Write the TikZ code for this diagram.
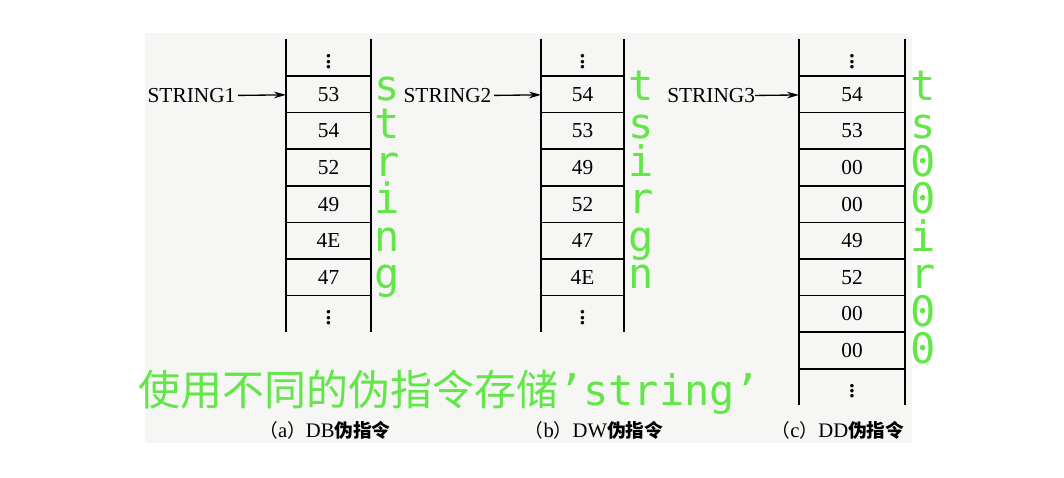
\documentclass[tikz,border=0pt]{standalone}
\usepackage{fontspec}
\setmainfont{Liberation Serif}
\newfontfamily\cjk{Noto Sans CJK SC}
\newfontfamily\mono{DejaVu Sans Mono}
\usetikzlibrary{positioning,arrows.meta}
\definecolor{paper}{RGB}{246,246,245}
\definecolor{hl}{RGB}{98,230,72}
\begin{document}
\begin{tikzpicture}[x=0.75pt,y=-0.75pt,
    every node/.style={inner sep=0,outer sep=0},
    cell/.style={draw,line width=1.3pt,minimum height=36.6*0.75pt,font=\fontsize{16}{16}\selectfont},
    gap/.style={cell,draw=none,font=\fontsize{22}{22}\selectfont},
    ptr/.style={font=\fontsize{16}{16}\selectfont},
    tip/.style={line width=1pt,-{Stealth[length=9pt,width=5pt]}},
    ch/.style={anchor=base west,text=hl,font=\mono\fontsize{31.5}{31.5}\selectfont},
    subcap/.style={font=\fontsize{15.5}{15.5}\selectfont}]
    \useasboundingbox (0,0) rectangle (1064,478);
    \fill[paper] (145,33) rectangle (912,443);
    % (a) DB
    \node[gap,minimum width=85*0.75pt] (a0) at (328.5,57.7) {$\vdots$};
    \foreach \v [count=\i] in {53,54,52,49,4E,47}
        \node[cell,minimum width=85*0.75pt] (a\i) at (328.5,{76+36.6*(\i-0.5)}) {\v};
    \node[gap,minimum width=85*0.75pt] (a7) at (328.5,313.9) {$\vdots$};
    \draw[line width=1.3pt] (a0.north west) -- (a7.south west) (a0.north east) -- (a7.south east);
    \node[ptr,anchor=east,inner xsep=2pt] (p1) at (238,96) {STRING1};
    \draw[tip] (p1) -- (a1);
    \foreach \c [count=\k] in {s,t,r,i,n,g}
        \node[ch] (la\k) at (374,{101+37.5*(\k-1)}) {\c};
    % (b) DW
    \node[gap,minimum width=83*0.75pt] (b0) at (582.5,57.7) {$\vdots$};
    \foreach \v [count=\i] in {54,53,49,52,47,4E}
        \node[cell,minimum width=83*0.75pt] (b\i) at (582.5,{76+36.6*(\i-0.5)}) {\v};
    \node[gap,minimum width=83*0.75pt] (b7) at (582.5,313.9) {$\vdots$};
    \draw[line width=1.3pt] (b0.north west) -- (b7.south west) (b0.north east) -- (b7.south east);
    \node[ptr,anchor=east,inner xsep=2pt] (p2) at (494,96) {STRING2};
    \draw[tip] (p2) -- (b1);
    \foreach \c [count=\k] in {t,s,i,r,g,n}
        \node[ch] (lb\k) at (628,{101+37.5*(\k-1)}) {\c};
    % (c) DD
    \node[gap,minimum width=106*0.75pt] (c0) at (852,57.7) {$\vdots$};
    \foreach \v [count=\i] in {54,53,00,00,49,52,00,00}
        \node[cell,minimum width=106*0.75pt] (c\i) at (852,{76+36.6*(\i-0.5)}) {\v};
    \node[gap,minimum width=106*0.75pt] (c9) at (852,387.1) {$\vdots$};
    \draw[line width=1.3pt] (c0.north west) -- (c9.south west) (c0.north east) -- (c9.south east);
    \node[ptr,anchor=east] (p3) at (755,96) {STRING3};
    \draw[tip] (p3) -- (c1);
    \foreach \c [count=\k] in {t,s,0,0,i,r,0,0}
        \node[ch] (lc\k) at (910,{101+37.5*(\k-1)}) {\c};
    % captions
    \node[subcap] (ca) at (325,430) {{\cjk\fontsize{14}{14}\selectfont （}a{\cjk\fontsize{14}{14}\selectfont ）}DB{\cjk\bfseries\fontsize{14}{14}\selectfont 伪指令}};
    \node[subcap] (cb) at (594,430) {{\cjk\fontsize{14}{14}\selectfont （}b{\cjk\fontsize{14}{14}\selectfont ）}DW{\cjk\bfseries\fontsize{14}{14}\selectfont 伪指令}};
    \node[subcap] (cc) at (838,430) {{\cjk\fontsize{14}{14}\selectfont （}c{\cjk\fontsize{14}{14}\selectfont ）}DD{\cjk\bfseries\fontsize{14}{14}\selectfont 伪指令}};
    \node[anchor=base west,text=hl,font=\fontsize{31.5}{31.5}\selectfont] (note) at (138,405)
        {{\cjk 使用不同的伪指令存储}{\mono ’string’}};
\end{tikzpicture}
\end{document}
